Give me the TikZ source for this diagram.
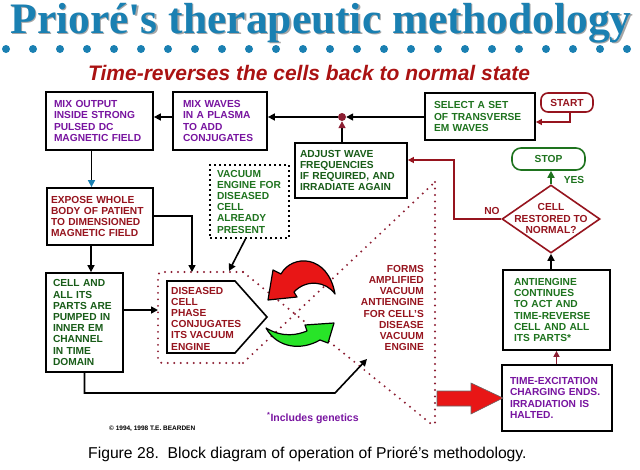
\documentclass[tikz,border=0pt]{standalone}
\usepackage{fontspec}
\setmainfont{Liberation Sans}
\newfontfamily\titlefont{Liberation Serif}
\usetikzlibrary{arrows.meta,shapes.geometric,calc}
\definecolor{teal1}{RGB}{26,128,178}
\definecolor{dred}{RGB}{150,20,30}
\definecolor{subred}{RGB}{170,18,18}
\definecolor{purp}{RGB}{120,20,160}
\definecolor{grn}{RGB}{30,115,30}
\definecolor{maroon1}{RGB}{140,30,50}
\definecolor{bred}{RGB}{232,22,22}
\definecolor{bgreen}{RGB}{40,228,40}
\newcommand{\bxfont}{\fontsize{10.2pt}{11.2pt}\selectfont\bfseries}
\tikzset{
  bx/.style={draw, line width=1.8pt, fill=white, font=\bxfont, align=left, inner ysep=0pt},
  arr/.style={line width=1.6pt, -{Triangle[length=7pt,width=7pt]}},
  redarr/.style={draw=dred, line width=1.6pt, -{Triangle[length=6pt,width=6pt]}},
  mdots/.style={draw=maroon1, line width=2.2pt, line cap=round, dash pattern=on 0pt off 6.5pt},
  lbl/.style={font=\bxfont, inner sep=0pt}
}
\begin{document}
\begin{tikzpicture}[x=1pt,y=-1pt]
\useasboundingbox (0,0) rectangle (640,469);
% title
\node[font=\titlefont\bfseries\fontsize{43.5pt}{44pt}\selectfont, text=black!35, anchor=base, inner sep=0pt] (titleshadow) at (322.3,34.3) {Prioré's therapeutic methodology};
\node[font=\titlefont\bfseries\fontsize{43.5pt}{44pt}\selectfont, text=teal1, anchor=base, inner sep=0pt] (title) at (321,33) {Prioré's therapeutic methodology};
\foreach \i in {0,...,23} \node[circle, fill=teal1, inner sep=0pt, minimum size=8pt] (dot\i) at (6+27*\i,49) {};
\node[font=\fontsize{21pt}{21pt}\selectfont\bfseries\itshape, text=subred, anchor=base west, inner sep=0pt] (sub) at (88,80) {Time-reverses the cells back to normal state};

% dotted funnel
\coordinate (dA) at (243,272);
\coordinate (dB) at (243,363);
\coordinate (vT) at (435,182);
\coordinate (vB) at (435,427);
\draw[mdots, rounded corners=4pt] (dA) -- (158,272) -- (158,363) -- (dB);
\draw[mdots] (dA) -- (vB);
\draw[mdots] (dB) -- (vT);
\draw[mdots] (vT) -- (vB);
\coordinate (dtop) at (192,272);
\coordinate (dvt) at (229,271);
\coordinate (dl) at (158,310);

% boxes
\node[bx, text=purp, minimum width=107pt, minimum height=58pt, inner xsep=8pt, text width=91pt] (mixout) at (99.5,121) {MIX OUTPUT\\INSIDE STRONG\\PULSED DC\\MAGNETIC FIELD};
\node[bx, text=purp, minimum width=94pt, minimum height=58pt, inner xsep=10pt, text width=74pt] (mixwav) at (220,121) {MIX WAVES\\IN A PLASMA\\TO ADD\\CONJUGATES};
\node[bx, text=grn, minimum width=110pt, minimum height=47pt, inner xsep=9pt, text width=92pt] (select) at (480,116.5) {SELECT A SET\\OF TRANSVERSE\\EM WAVES};
\node[draw=dred, line width=1.6pt, rounded corners=7pt, fill=white, text=dred, font=\bxfont, minimum width=52pt, minimum height=19pt, inner sep=0pt] (start) at (567,102.5) {START};
\node[bx, text=grn!80!black, minimum width=112pt, minimum height=55pt, inner xsep=5pt, text width=102pt] (adjust) at (351,170.5) {ADJUST WAVE\\FREQUENCIES\\IF REQUIRED, AND\\IRRADIATE AGAIN};
\node[draw, dash pattern=on 1.8pt off 3.2pt, line width=1.8pt, fill=white, text=grn, font=\bxfont, align=left, minimum width=79pt, minimum height=73pt, inner xsep=7pt, inner ysep=0pt, text width=65pt] (vac) at (249.5,201.5) {VACUUM\\ENGINE FOR\\DISEASED\\CELL\\ALREADY\\PRESENT};
\node[bx, text=dred, minimum width=106pt, minimum height=57pt, inner xsep=4pt, text width=98pt] (expose) at (100,216.5) {EXPOSE WHOLE\\BODY OF PATIENT\\TO DIMENSIONED\\MAGNETIC FIELD};
\node[bx, text=grn!80!black, minimum width=77pt, minimum height=99pt, inner xsep=7pt, text width=63pt] (cellbox) at (84.5,322.5) {CELL AND\\ALL ITS\\PARTS ARE\\PUMPED IN\\INNER EM\\CHANNEL\\IN TIME\\DOMAIN};
\node[bx, text=grn, minimum width=107pt, minimum height=80pt, inner xsep=11pt, text width=85pt] (antieng) at (556.5,310) {ANTIENGINE\\CONTINUES\\TO ACT AND\\TIME-REVERSE\\CELL AND ALL\\ITS PARTS*};
\node[bx, text=purp, minimum width=110pt, minimum height=66pt, inner xsep=8pt, text width=94pt] (timeex) at (557,398) {TIME-EXCITATION\\CHARGING ENDS.\\IRRADIATION IS\\HALTED.};
\node[draw=grn, line width=1.6pt, rounded corners=9pt, fill=white, text=grn, font=\bxfont, minimum width=73pt, minimum height=22pt, inner sep=0pt] (stop) at (548.5,159) {STOP};
\node[diamond, draw=dred, line width=1.6pt, fill=white, minimum width=98pt, minimum height=68pt, inner sep=0pt] (dia) at (551,219) {};
\node[font=\bxfont, text=dred, align=center, inner sep=0pt] (diatext) at (551,218.5) {CELL\\RESTORED TO\\NORMAL?};

% pentagon
\draw[line width=1.6pt, fill=white] (167,281) -- (235,281) -- (267,317) -- (235,353) -- (167,353) -- cycle;
\node[font=\bxfont, text=dred, align=left, anchor=west, inner sep=0pt] (dis) at (171,318.5) {DISEASED\\CELL\\PHASE\\CONJUGATES\\ITS VACUUM\\ENGINE};

% forms text
\node[font=\bxfont, text=dred, align=right, anchor=north east, inner sep=0pt] (forms) at (424,265) {FORMS\\AMPLIFIED\\VACUUM\\ANTIENGINE\\FOR CELL'S\\DISEASE\\VACUUM\\ENGINE};

% curved arrows
\draw[fill=bred, line width=1.2pt, line join=round] (268,300) -- (273,270) -- (281,274) .. controls (292,254) and (328,254) .. (335,294) .. controls (326,281) and (306,279) .. (294,292) -- (297,297) -- cycle;
\draw[fill=bgreen, line width=1.2pt, line join=round] (266,328) .. controls (283,338) and (297,335) .. (307,331) -- (305,325) -- (334,323) -- (328,343) -- (320,340) .. controls (301,351) and (277,348) .. (266,328) -- cycle;

% big red block arrow
\draw[fill=bred, draw=black!60, line width=0.6pt] (437,391) -- (471,391) -- (471,383) -- (503,398) -- (471,414) -- (471,406) -- (437,406) -- cycle;

% junction
\node[circle, fill=maroon1, inner sep=0pt, minimum size=8pt] (jn) at (342,117) {};

% connectors
\draw[arr] (select.west |- jn) -- (jn.east);
\draw[arr] (jn.west) -- (jn -| mixwav.east);
\draw[line width=1.6pt, -{Triangle[length=7pt,width=7pt,color=maroon1]}] (jn |- adjust.north) -- (jn.south);
\draw[arr] (mixwav.west |- jn) -- (mixout.east |- jn);
\draw[line width=1.6pt, -{Triangle[length=7pt,width=7pt,color=teal1]}] ([xshift=-8pt]mixout.south) -- ([xshift=-8pt]mixout.south |- expose.north);
\draw[arr] ([yshift=0.5pt]expose.east) -| (dtop);
\draw[arr] ([xshift=-9pt]expose.south) -- ([xshift=-9pt]expose.south |- cellbox.north);
\draw[arr] (cellbox.east |- dl) -- (dl);
\draw[arr] ([xshift=-4pt]vac.south) -- (dvt);
\coordinate (cb1) at (335,393);
\coordinate (ftip) at (367,359);
\draw[arr] (cellbox.south) -- (cellbox.south |- cb1) -- (cb1) -- (ftip);
\draw[redarr] ([xshift=3pt]start.south) |- ([yshift=-5.5pt]select.east);
\draw[redarr] (dia.west) -- ++(-47,0) |- ([yshift=10.5pt]adjust.east);
\draw[draw=grn, line width=1.6pt, -{Triangle[length=7pt,width=7pt]}] (dia.north) -- (dia.north |- stop.south);
\draw[line width=1.6pt, -{Triangle[length=7pt,width=7pt]}] (dia.south |- antieng.north) -- (dia.south);
\draw[draw=maroon1, line width=1.6pt, -{Triangle[length=6pt,width=6pt]}] (timeex.north -| antieng.south) -- (antieng.south);

% labels
\node[lbl, text=grn] (yes) at (574,180) {YES};
\node[lbl, text=dred] (no) at (492,211) {NO};
\node[font=\fontsize{6.5pt}{7pt}\selectfont\bfseries, anchor=west, inner sep=0pt] (copy) at (109,429) {© 1994, 1998 T.E. BEARDEN};
\node[font=\fontsize{10.5pt}{12pt}\selectfont\bfseries, text=purp, anchor=west, inner sep=0pt] (incl) at (267,418) {\textsuperscript{*}Includes genetics};
\node[font=\fontsize{15.7pt}{16pt}\selectfont, anchor=base west, inner sep=0pt] (cap) at (88,458) {Figure 28.\ \ Block diagram of operation of Prioré's methodology.};
\end{tikzpicture}
\end{document}
